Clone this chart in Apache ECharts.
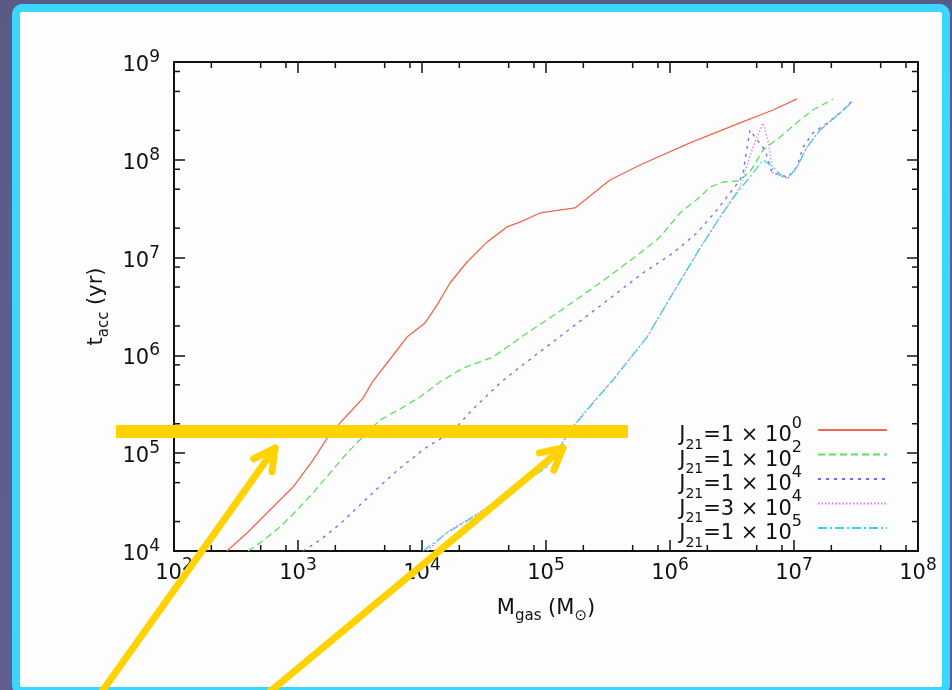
<!DOCTYPE html>
<html><head><meta charset="utf-8">
<script src="https://cdn.jsdelivr.net/npm/echarts@6/dist/echarts.min.js"></script>
<style>
html,body{margin:0;padding:0;width:952px;height:690px;overflow:hidden;background:linear-gradient(180deg,#5a5a87 0%,#615f92 100%);}
#panel{position:absolute;left:12px;top:4px;width:938px;height:691px;box-sizing:border-box;border:8px solid #3bd6fd;border-radius:10px;background:#fdfdfd;}
#chart{position:absolute;left:0;top:0;width:952px;height:690px;}
</style></head><body><div id="panel"></div><div id="chart"></div>
<script>
// ---- data (M_gas [Msun], t_acc [yr]) ----
const seriesJ1e0 = [[267,1.0e4],[388,1.53e4],[562,2.45e4],[912,4.51e4],[1321,8.51e4],[1746,1.47e5],[2183,2.04e5],[2777,2.83e5],[3343,3.66e5],[4027,5.47e5],[5222,8.36e5],[7570,1.54e6],[10570,2.14e6],[13210,3.27e6],[16820,5.50e6],[23070,9.02e6],[33420,1.44e7],[48420,2.06e7],[61660,2.31e7],[89500,2.86e7],[171400,3.22e7],[328100,6.21e7],[572800,8.85e7],[1449000,1.49e8],[3670000,2.38e8],[6776000,3.23e8],[10570000,4.19e8]];
const seriesJ1e2 = [[395,1.0e4],[494,1.21e4],[716,1.76e4],[982,2.62e4],[1321,3.92e4],[1811,6.28e4],[2484,1.0e5],[3343,1.47e5],[4583,2.18e5],[6650,2.83e5],[9640,3.76e5],[13970,5.35e5],[21430,7.43e5],[37390,9.63e5],[54180,1.34e6],[61660,1.51e6],[129700,2.84e6],[272300,5.50e6],[572800,1.11e7],[830000,1.62e7],[1205000,2.86e7],[1746000,4.17e7],[2104000,5.27e7],[2673000,5.93e7],[3532000,6.07e7],[4416000,7.50e7],[5623000,1.26e8],[7715000,1.71e8],[11170000,2.55e8],[14230000,3.23e8],[20640000,4.19e8]];
const seriesJ1e4 = [[1097,1.0e4],[1504,1.29e4],[2183,1.89e4],[3162,2.95e4],[4583,4.62e4],[6650,7.06e4],[10970,1.16e5],[17460,1.65e5],[25790,2.83e5],[42560,5.22e5],[61660,7.60e5],[272300,3.20e6],[605300,6.96e6],[1057000,1.11e7],[1651000,1.79e7],[2393000,3.07e7],[3047000,4.58e7],[3670000,6.21e7],[3880000,7.33e7],[4416000,2.02e8],[4842000,1.71e8],[5834000,1.26e8],[6650000,7.33e7],[8150000,7.00e7],[8790000,6.51e7],[10570000,8.44e7],[11830000,1.35e8],[14230000,1.88e8],[18460000,2.38e8],[23500000,3.01e8],[29380000,3.99e8]];
const seriesJ3e4 = [[10970,1.0e4],[15920,1.56e4],[29380,2.5e4],[54180,4.3e4],[101900,7.4e4],[165100,1.9e5],[239300,3.3e5],[346700,5.6e5],[653000,1.54e6],[1057000,4.35e6],[1651000,1.11e7],[2529000,2.6e7],[3670000,5.27e7],[4667000,1.35e8],[5623000,2.38e8],[6166000,1.59e8],[6776000,7.33e7],[8150000,6.67e7],[8950000,6.51e7],[10570000,8.44e7],[12740000,1.35e8],[16220000,2.02e8],[23500000,3.01e8],[29380000,3.90e8]];
const seriesJ1e5 = [[10190,1.0e4],[15920,1.53e4],[29380,2.45e4],[54180,4.21e4],[101900,7.23e4],[165100,1.85e5],[239300,3.26e5],[346700,5.6e5],[653000,1.54e6],[1057000,4.35e6],[1651000,1.11e7],[2529000,2.6e7],[3467000,4.58e7],[4416000,6.67e7],[5623000,9.95e7],[6776000,8.44e7],[8150000,6.67e7],[8950000,6.51e7],[10570000,8.44e7],[12740000,1.35e8],[16220000,2.02e8],[23500000,3.01e8],[29380000,3.90e8]];

const legendCoef = ['1','1','1','3','1'];
const legendExp  = ['0','2','4','4','5'];
const xTickExps = [2,3,4,5,6,7,8];
const yTickExps = [4,5,6,7,8,9];
const minorFactors = [2,5,8];

// annotation anchors (data space)
const barLevel = 1.67e5, barFrom = 34, barTo = 4.58e5;
const arrowTails = [[23.5,300],[494,300]];
const arrowTips  = [[653,1.13e5],[1.37e5,1.13e5]];

const xMin = Math.pow(10, xTickExps[0]), xMax = Math.pow(10, xTickExps[xTickExps.length-1]);
const yMin = Math.pow(10, yTickExps[0]), yMax = Math.pow(10, yTickExps[yTickExps.length-1]);

const F = "'DejaVu Sans', sans-serif";
const INK = '#111';
const NB = '\u00a0';
const xRich = {
  b:   {fontFamily:F, fontSize:21, lineHeight:24, height:24, color:INK},
  sup: {fontFamily:F, fontSize:17, lineHeight:8, height:8, verticalAlign:'top', color:INK}
};
const yRich = {
  h:   {fontFamily:F, fontSize:1, lineHeight:31, color:INK},
  b:   {fontFamily:F, fontSize:21, lineHeight:24, height:24, verticalAlign:'bottom', color:INK},
  sup: {fontFamily:F, fontSize:17, lineHeight:22, height:22, verticalAlign:'top', color:INK}
};
const nameRich = {
  b:   {fontFamily:F, fontSize:21, lineHeight:24, height:24, color:INK},
  sub: {fontFamily:F, fontSize:15, lineHeight:10, height:10, verticalAlign:'bottom', color:INK}
};
const legRich = {
  h:   {fontFamily:F, fontSize:1, lineHeight:36, color:INK},
  b:   {fontFamily:F, fontSize:21, lineHeight:24, height:24, verticalAlign:'bottom', color:INK},
  sup: {fontFamily:F, fontSize:16, lineHeight:23, height:23, verticalAlign:'top', color:INK, padding:[0,11,0,0]},
  sub: {fontFamily:F, fontSize:14, lineHeight:6, height:6, verticalAlign:'bottom', color:INK}
};

const names = legendCoef.map((c,i)=>'J21=' + c + ' × 10^' + legendExp[i]);
const datasets = [seriesJ1e0, seriesJ1e2, seriesJ1e4, seriesJ3e4, seriesJ1e5];
const colors = ['#f0664e','#5ee05e','#6c6cf2','#e07ae0','#3ed2e6'];
const dashes = ['solid',[7,4],[3,5],[1.5,2],[9,3,2,3]];

function exp10(v){ return Math.round(Math.log10(v)); }

const minorX = [], minorY = [];
xTickExps.slice(0,-1).forEach(e=>minorFactors.forEach(f=>minorX.push(f*Math.pow(10,e))));
yTickExps.slice(0,-1).forEach(e=>minorFactors.forEach(f=>minorY.push(f*Math.pow(10,e))));

const TICKLEN = 6, TICKSTYLE = {stroke:INK, lineWidth:1.5};
function minorTickSeries(vals, isX){
  return {
    type:'custom', silent:true, animation:false, z:5, clip:false,
    data: vals.map(v => isX ? [v, yMin] : [xMin, v]),
    renderItem: function(params, api){
      if (isX){
        const v = api.value(0);
        const a = api.coord([v, yMin]), b = api.coord([v, yMax]);
        return {type:'group', children:[
          {type:'line', shape:{x1:a[0],y1:a[1],x2:a[0],y2:a[1]-TICKLEN}, style:TICKSTYLE},
          {type:'line', shape:{x1:b[0],y1:b[1],x2:b[0],y2:b[1]+TICKLEN}, style:TICKSTYLE}]};
      } else {
        const v = api.value(1);
        const a = api.coord([xMin, v]), b = api.coord([xMax, v]);
        return {type:'group', children:[
          {type:'line', shape:{x1:a[0],y1:a[1],x2:a[0]+TICKLEN,y2:a[1]}, style:TICKSTYLE},
          {type:'line', shape:{x1:b[0],y1:b[1],x2:b[0]-TICKLEN,y2:b[1]}, style:TICKSTYLE}]};
      }
    }
  };
}

const axisLine = {show:true, onZero:false, lineStyle:{color:INK, width:2}};
const majorTick = {show:true, inside:true, length:11, lineStyle:{color:INK, width:1.5}};

const chart = echarts.init(document.getElementById('chart'), null, {renderer:'canvas'});
const option = {
  animation:false,
  backgroundColor:'transparent',
  grid:{left:174, top:62, width:744, height:489, containLabel:false, outerBoundsMode:'none', show:false},
  xAxis:[
    {type:'log', logBase:10, min:xMin, max:xMax, position:'bottom', axisLine:axisLine, axisTick:majorTick,
     splitLine:{show:false}, minorTick:{show:false},
     axisLabel:{formatter:v=>'{b|10}{sup|' + exp10(v) + '}', rich:xRich, margin:11},
     name:'{b|M}{sub|gas}{b| (M}{sub|⊙}{b|)}', nameLocation:'middle', nameGap:46,
     nameTextStyle:{rich:nameRich}},
    {type:'log', logBase:10, min:xMin, max:xMax, position:'top', axisLine:axisLine, axisTick:majorTick,
     splitLine:{show:false}, axisLabel:{show:false}}
  ],
  yAxis:[
    {type:'log', logBase:10, min:yMin, max:yMax, position:'left', axisLine:axisLine, axisTick:majorTick,
     splitLine:{show:false}, minorTick:{show:false},
     axisLabel:{formatter:v=>'{h|' + NB + '}{b|10}{sup|' + exp10(v) + '}', rich:yRich, margin:14},
     name:'{b|t}{sub|acc}{b| (yr)}', nameLocation:'middle', nameGap:43,
     nameTextStyle:{rich:nameRich}},
    {type:'log', logBase:10, min:yMin, max:yMax, position:'right', axisLine:axisLine, axisTick:majorTick,
     splitLine:{show:false}, axisLabel:{show:false}}
  ],
  legend:{
    data:names, orient:'vertical', right:64, top:412, padding:0, align:'right',
    itemWidth:69, itemHeight:10, itemGap:-15.5, selectedMode:false,
    itemStyle:{opacity:0, borderWidth:0},
    textStyle:{fontFamily:F, fontSize:21, color:INK, rich:legRich},
    formatter:function(name){
      const i = names.indexOf(name);
      return '{h|' + NB + '}{b|J}{sub|21}{b|=' + legendCoef[i] + ' × 10}{sup|' + legendExp[i] + '}';
    }
  },
  series: names.map((n,i)=>({
    name:n, type:'line', data:datasets[i], symbol:'none', showSymbol:false, clip:true,
    lineStyle:{color:colors[i], width:1.3, type:dashes[i]}, itemStyle:{color:colors[i]}, z:3
  })).concat([minorTickSeries(minorX,true), minorTickSeries(minorY,false)])
};
chart.setOption(option);

// ---- yellow slide annotations, positioned from data-space anchors ----
function px(p){ return chart.convertToPixel({gridIndex:0}, p); }
const YEL = '#ffd200';
const g = [];
const b0 = px([barFrom, barLevel]), b1 = px([barTo, barLevel]);
g.push({type:'line', z:100, shape:{x1:b0[0],y1:b0[1],x2:b1[0],y2:b1[1]}, style:{stroke:YEL, lineWidth:13}});
arrowTails.forEach((t,i)=>{
  const a = px(t), b = px(arrowTips[i]);
  const ang = Math.atan2(a[1]-b[1], a[0]-b[0]);
  const L = 24, d = 28*Math.PI/180;
  const h1 = [b[0]+L*Math.cos(ang+d), b[1]+L*Math.sin(ang+d)];
  const h2 = [b[0]+L*Math.cos(ang-d), b[1]+L*Math.sin(ang-d)];
  g.push({type:'line', z:100, shape:{x1:a[0],y1:a[1],x2:b[0],y2:b[1]}, style:{stroke:YEL, lineWidth:7, lineCap:'round'}});
  g.push({type:'polyline', z:100, shape:{points:[h1,b,h2]}, style:{stroke:YEL, lineWidth:7, lineCap:'round', lineJoin:'round', fill:null}});
});
chart.setOption({graphic:g});
</script></body></html>
